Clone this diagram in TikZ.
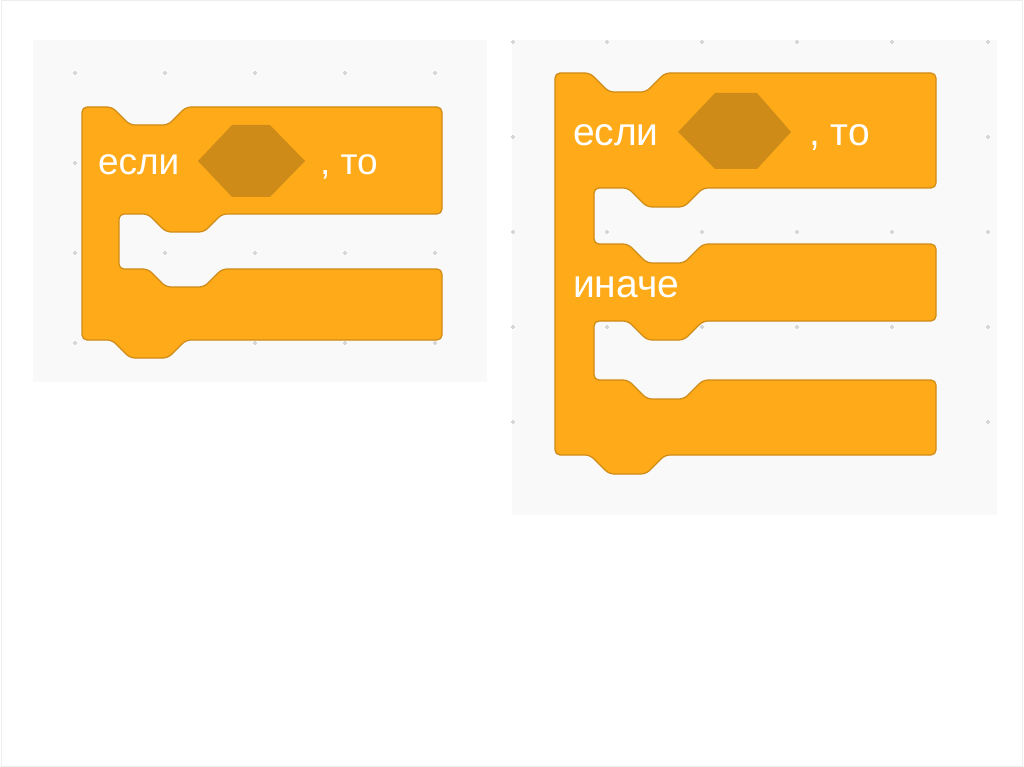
\documentclass[tikz,border=0pt]{standalone}
\usepackage{fontspec}
\setmainfont{Liberation Sans}
\definecolor{blockfill}{HTML}{FFAB19}
\definecolor{blockedge}{HTML}{CF8B17}
\definecolor{slotfill}{HTML}{CF8B17}
\definecolor{panel}{HTML}{F9F9F9}
\definecolor{gdot}{HTML}{D6D6D6}
\definecolor{frame}{HTML}{EEEEEE}
\tikzset{
  block/.style={fill=blockfill,draw=blockedge,line width=1.2pt,rounded corners=5pt,line join=round},
  slot/.style={fill=slotfill,draw=none},
  lbl/.style={text=white,anchor=base west,inner sep=0pt,outer sep=0pt},
  panelbg/.style={fill=panel,draw=none},
}
\newcommand{\gdotat}[2]{\fill[gdot] (#1-2,#2-0.6) rectangle (#1+2,#2+0.6); \fill[gdot] (#1-0.6,#2-2) rectangle (#1+0.6,#2+2);}
\begin{document}
\begin{tikzpicture}[x=1pt,y=-1pt]
\useasboundingbox (0,0) rectangle (1024,767);
\fill[white] (0,0) rectangle (1024,767);
\draw[frame,line width=1pt] (1,1) rectangle (1022,766);
% panels
\fill[panelbg] (33,40) rectangle (487,382);
\fill[panelbg] (512,40) rectangle (997,515);
% grid dots
\foreach \gx in {75,165,255,345,435} {\foreach \gy in {73,163,253,343} {\gdotat{\gx}{\gy}}}
\foreach \gx in {513,607,702,797,892,988} {\foreach \gy in {42,137,232,327,422} {\gdotat{\gx}{\gy}}}
% left block
\draw[block] (82,107) -- (112,107) -- (130,125) -- (168,125) -- (186,107) -- (442,107) -- (442,214)
  -- (222,214) -- (204,232) -- (166,232) -- (148,214) -- (119,214) -- (119,269)
  -- (148,269) -- (166,287) -- (204,287) -- (222,269) -- (442,269) -- (442,340)
  -- (186,340) -- (168,358) -- (130,358) -- (112,340) -- (82,340) -- cycle;
\fill[slot] (198,161) -- (232,125) -- (270,125) -- (305,161) -- (270,197) -- (232,197) -- cycle;
\node[lbl,font=\fontsize{37}{40}\selectfont] (ifL) at (98,175) {если};
\node[lbl,font=\fontsize{37}{40}\selectfont] (thenL) at (320,175) {, то};
% right block
\draw[block] (555,73) -- (590,73) -- (609,92) -- (646,92) -- (665,73) -- (936,73) -- (936,188)
  -- (703,188) -- (684,207) -- (647,207) -- (628,188) -- (594,188) -- (594,244)
  -- (628,244) -- (647,263) -- (684,263) -- (703,244) -- (936,244) -- (936,321)
  -- (703,321) -- (684,340) -- (647,340) -- (628,321) -- (594,321) -- (594,380)
  -- (628,380) -- (647,399) -- (684,399) -- (703,380) -- (936,380) -- (936,455)
  -- (665,455) -- (646,474) -- (609,474) -- (590,455) -- (555,455) -- cycle;
\fill[slot] (678,132) -- (715,93) -- (757,93) -- (791,132) -- (757,169) -- (715,169) -- cycle;
\node[lbl,font=\fontsize{39}{42}\selectfont] (ifR) at (573,146) {если};
\node[lbl,font=\fontsize{39}{42}\selectfont] (thenR) at (809,146) {, то};
\node[lbl,font=\fontsize{39}{42}\selectfont] (elseR) at (573,297) {иначе};
\end{tikzpicture}
\end{document}
